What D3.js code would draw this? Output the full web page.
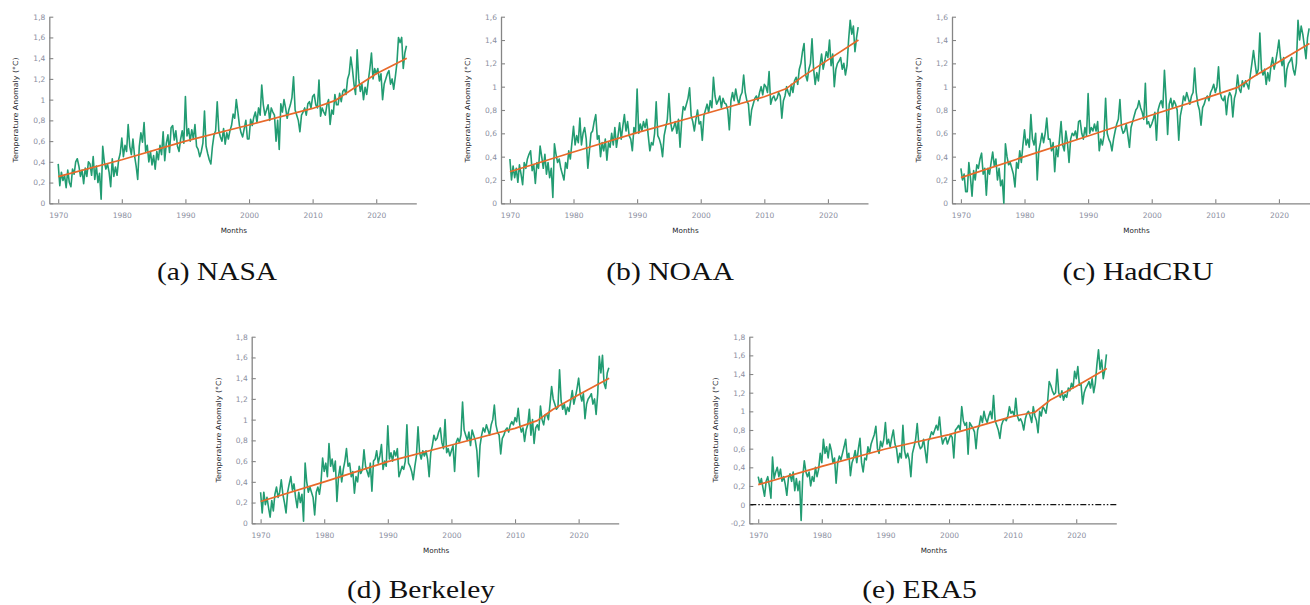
<!DOCTYPE html>
<html>
<head>
<meta charset="utf-8">
<script src="https://cdn.jsdelivr.net/npm/d3@7"></script>
<style>
  html, body { margin: 0; padding: 0; background: #ffffff; }
  svg { display: block; }
</style>
</head>
<body>
<svg id="chart" width="1310" height="605"></svg>
<script>
// ---------------- DATA (quarterly readings, 1970.00 .. 2024.75) ----------------
const startYear = 1970;
const stepYears = 0.25;

const nasa = [
0.38,0.17,0.30,0.22, 0.27,0.15,0.32,0.20, 0.16,0.33,0.28,0.40, 0.43,0.36,0.26,0.32, 0.19,0.34,0.26,0.40,
0.38,0.27,0.45,0.23, 0.36,0.20,0.29,0.04, 0.55,0.40,0.33,0.38, 0.30,0.16,0.43,0.26, 0.35,0.27,0.42,0.48,
0.63,0.45,0.56,0.50, 0.76,0.55,0.47,0.62, 0.46,0.36,0.23,0.55, 0.68,0.59,0.78,0.50, 0.56,0.40,0.50,0.37,
0.46,0.33,0.50,0.42, 0.56,0.47,0.69,0.41, 0.58,0.66,0.49,0.73, 0.75,0.61,0.70,0.55, 0.50,0.62,0.70,0.58,
1.03,0.65,0.72,0.60, 0.71,0.62,0.76,0.55, 0.52,0.45,0.50,0.58, 0.89,0.55,0.48,0.42, 0.38,0.55,0.66,0.70,
0.98,0.70,0.64,0.60, 0.72,0.57,0.68,0.62, 0.70,0.75,0.86,0.82, 1.00,0.88,0.75,0.68, 0.64,0.72,0.80,0.62,
0.62,0.81,0.75,0.83, 0.88,0.78,0.92,0.85, 1.14,0.95,0.85,0.90, 0.95,0.80,0.92,0.88, 0.85,0.60,0.80,0.52,
0.96,0.88,1.00,0.92, 0.82,0.90,0.95,1.02, 1.22,0.90,0.85,0.80, 0.69,0.85,0.88,0.92, 0.85,0.96,0.98,0.92,
1.03,1.05,0.95,0.92, 1.19,0.84,0.92,0.88, 0.85,0.95,1.00,0.76, 0.90,0.86,1.05,0.95, 0.95,1.06,0.98,1.08,
1.10,1.05,1.20,1.25, 1.41,1.30,1.15,1.05, 1.48,1.20,1.08,1.15, 1.00,1.12,1.05,1.18, 1.30,1.45,1.20,1.30,
1.25,1.30,1.18,1.25, 1.00,1.15,1.20,1.25, 1.28,1.15,1.20,1.10, 1.22,1.35,1.60,1.55, 1.60,1.30,1.45,1.52
];

const noaa = [
0.38,0.20,0.32,0.22, 0.30,0.18,0.33,0.25, 0.16,0.35,0.30,0.38, 0.42,0.45,0.28,0.33, 0.17,0.35,0.30,0.49,
0.40,0.30,0.42,0.25, 0.35,0.22,0.30,0.05, 0.51,0.42,0.35,0.38, 0.30,0.25,0.20,0.35, 0.30,0.45,0.38,0.52,
0.66,0.50,0.58,0.52, 0.73,0.50,0.60,0.65, 0.55,0.30,0.45,0.60, 0.62,0.70,0.76,0.55, 0.58,0.40,0.52,0.45,
0.55,0.37,0.52,0.48, 0.60,0.50,0.65,0.48, 0.58,0.69,0.55,0.66, 0.76,0.62,0.70,0.58, 0.55,0.45,0.65,0.60,
0.98,0.60,0.68,0.62, 0.70,0.65,0.72,0.58, 0.45,0.52,0.50,0.60, 0.87,0.58,0.55,0.50, 0.40,0.58,0.65,0.72,
0.94,0.70,0.62,0.65, 0.70,0.60,0.72,0.48, 0.70,0.83,0.80,0.85, 0.90,0.99,0.75,0.70, 0.62,0.72,0.80,0.68,
0.70,0.54,0.75,0.80, 0.85,0.78,0.88,0.82, 1.08,0.92,0.85,0.88, 0.92,0.82,0.90,0.86, 0.85,0.80,0.63,0.88,
0.95,0.88,0.98,0.90, 0.85,0.92,0.95,1.10, 0.95,0.88,0.85,0.67, 0.80,0.85,0.90,0.92, 0.88,0.95,1.00,0.93,
1.02,1.00,0.95,1.13, 0.85,0.90,0.92,0.88, 0.90,0.95,0.92,0.73, 0.88,0.92,1.00,0.95, 0.92,1.02,0.95,1.05,
1.08,1.02,1.15,1.20, 1.30,1.37,1.10,1.05, 1.15,1.20,1.41,1.15, 1.02,1.12,1.05,1.18, 1.28,1.15,1.22,1.30,
1.25,1.40,1.18,1.28, 1.00,1.15,1.20,1.22, 1.25,1.15,1.20,1.10, 1.18,1.40,1.57,1.45, 1.52,1.30,1.42,1.51
];

const hadcru = [
0.30,0.20,0.25,0.10, 0.10,0.35,0.22,0.06, 0.28,0.20,0.33,0.30, 0.38,0.43,0.25,0.30, 0.07,0.30,0.25,0.35,
0.44,0.32,0.38,0.20, 0.30,0.15,0.20,0.00, 0.51,0.40,0.33,0.35, 0.30,0.25,0.14,0.35, 0.30,0.45,0.35,0.50,
0.63,0.50,0.55,0.48, 0.76,0.55,0.50,0.60, 0.20,0.45,0.52,0.60, 0.52,0.60,0.73,0.55, 0.55,0.45,0.52,0.27,
0.48,0.40,0.55,0.70, 0.50,0.45,0.62,0.52, 0.35,0.55,0.60,0.58, 0.62,0.55,0.70,0.71, 0.60,0.55,0.65,0.58,
0.94,0.60,0.65,0.62, 0.68,0.62,0.70,0.45, 0.55,0.50,0.58,0.90, 0.60,0.55,0.52,0.45, 0.55,0.62,0.68,0.72,
0.89,0.65,0.60,0.62, 0.68,0.58,0.48,0.65, 0.70,0.75,0.80,0.82, 0.88,0.82,0.78,0.72, 1.03,0.68,0.70,0.65,
0.68,0.72,0.78,0.54, 0.80,0.85,0.88,0.82, 1.14,0.90,0.59,0.85, 0.90,0.82,0.88,0.85, 0.80,0.54,0.75,0.82,
0.92,0.88,0.95,0.90, 0.85,0.92,0.95,1.16, 0.95,0.85,0.80,0.67, 0.82,0.85,0.90,0.92, 0.88,0.95,0.98,1.02,
0.95,1.00,1.17,0.95, 0.90,0.88,0.92,0.76, 0.90,0.95,0.92,0.74, 0.90,0.95,1.10,0.98, 0.95,1.05,1.00,1.05,
1.02,0.98,1.10,1.20, 1.31,1.20,1.10,1.15, 1.46,1.15,1.10,1.15, 1.02,1.12,1.05,1.18, 1.25,1.15,1.22,1.30,
1.40,1.25,1.18,1.25, 1.00,1.15,1.20,1.22, 1.25,1.15,1.10,1.20, 1.57,1.40,1.52,1.45, 1.35,1.24,1.42,1.50
];

const berkeley = [
0.30,0.10,0.30,0.18, 0.25,0.15,0.06,0.22, 0.12,0.28,0.35,0.25, 0.30,0.42,0.28,0.20, 0.10,0.30,0.38,0.45,
0.32,0.38,0.25,0.15, 0.30,0.20,0.28,0.02, 0.58,0.40,0.30,0.35, 0.30,0.25,0.08,0.30, 0.35,0.28,0.40,0.63,
0.50,0.58,0.45,0.77, 0.55,0.62,0.50,0.60, 0.21,0.45,0.55,0.40, 0.52,0.60,0.72,0.55, 0.58,0.45,0.50,0.29,
0.45,0.40,0.55,0.48, 0.52,0.71,0.55,0.50, 0.45,0.58,0.31,0.60, 0.62,0.70,0.58,0.65, 0.76,0.52,0.60,0.55,
0.94,0.62,0.68,0.60, 0.70,0.65,0.72,0.45, 0.50,0.55,0.52,0.60, 0.95,0.58,0.55,0.50, 0.42,0.55,0.65,0.93,
0.68,0.62,0.70,0.65, 0.70,0.62,0.45,0.68, 0.75,0.85,0.80,0.82, 0.88,0.92,0.78,0.72, 1.00,0.68,0.72,0.65,
0.70,0.75,0.50,0.78, 0.82,0.78,0.85,1.17, 0.90,0.85,0.80,0.88, 0.75,0.90,0.85,0.80, 0.70,0.45,0.75,0.85,
0.92,0.88,0.95,0.90, 0.85,0.95,1.00,1.14, 0.95,0.88,0.85,0.67, 0.82,0.85,0.90,0.92, 0.88,0.95,0.98,0.95,
1.02,0.98,1.11,0.95, 0.88,0.92,0.79,0.90, 0.95,1.10,0.85,1.00, 0.77,0.92,0.95,0.90, 1.13,1.00,0.95,1.05,
1.05,1.00,1.15,1.32, 1.20,1.15,1.10,1.12, 1.48,1.18,1.10,1.15, 1.05,1.12,1.08,1.18, 1.28,1.15,1.22,1.30,
1.40,1.25,1.18,1.25, 1.01,1.15,1.20,1.22, 1.25,1.15,1.20,1.05, 1.25,1.61,1.45,1.62, 1.35,1.30,1.45,1.50
];

const era5 = [
0.30,0.22,0.28,0.18, 0.09,0.25,0.30,0.20, 0.07,0.51,0.28,0.35, 0.40,0.30,0.38,0.25, 0.30,0.22,0.10,0.28,
0.33,0.25,0.35,0.15, 0.28,0.15,0.25,-0.17, 0.30,0.47,0.35,0.30, 0.35,0.20,0.30,0.25, 0.40,0.30,0.38,0.55,
0.45,0.70,0.55,0.62, 0.50,0.65,0.58,0.45, 0.50,0.23,0.45,0.52, 0.48,0.55,0.62,0.70, 0.50,0.55,0.31,0.45,
0.50,0.58,0.45,0.60, 0.71,0.45,0.35,0.50, 0.48,0.62,0.55,0.65, 0.70,0.75,0.84,0.60, 0.55,0.68,0.62,0.70,
0.88,0.65,0.70,0.62, 0.72,0.80,0.65,0.60, 0.45,0.55,0.50,0.85, 0.58,0.50,0.55,0.48, 0.30,0.55,0.62,0.70,
0.87,0.65,0.60,0.62, 0.70,0.58,0.45,0.68, 0.72,0.78,0.75,0.80, 0.85,0.80,0.94,0.75, 0.65,0.70,0.72,0.65,
0.70,0.75,0.72,0.50, 0.80,0.82,0.85,0.80, 1.05,0.90,0.85,0.88, 0.54,0.88,0.85,0.82, 0.78,0.60,0.80,0.85,
0.95,0.88,1.00,0.92, 0.88,0.95,1.00,0.92, 1.17,0.90,0.85,0.80, 0.71,0.85,0.90,0.92, 0.90,0.95,1.05,0.98,
1.00,0.95,1.14,0.95, 0.90,0.92,0.88,0.80, 0.92,0.98,1.00,0.95, 0.88,1.05,0.95,0.90, 0.77,1.00,0.95,1.05,
1.02,0.98,1.10,1.32, 1.28,1.22,1.18,1.20, 1.45,1.20,1.15,1.22, 1.12,1.18,1.15,1.25, 1.22,1.30,1.25,1.43,
1.35,1.48,1.28,1.30, 1.08,1.20,1.25,1.28, 1.32,1.25,1.35,1.20, 1.30,1.50,1.66,1.45, 1.55,1.35,1.45,1.61
];

// orange trend knots
const trendYears    = [1970, 1980, 1990, 2000, 2010, 2013.5, 2016, 2020, 2024.8];
const trendNasa     = [0.257, 0.42, 0.60, 0.755, 0.915, 0.99, 1.09, 1.25, 1.40];
const trendNoaa     = [0.27, 0.44, 0.606, 0.757, 0.914, 0.985, 1.086, 1.23, 1.40];
const trendHadcru   = [0.22, 0.40, 0.577, 0.757, 0.93, 0.994, 1.085, 1.214, 1.37];
const trendBerkeley = [0.21, 0.40, 0.595, 0.755, 0.916, 0.99, 1.10, 1.24, 1.40];
const trendEra5     = [0.214, 0.41, 0.596, 0.75, 0.946, 0.99, 1.125, 1.27, 1.46];

const xTicks = [1970, 1980, 1990, 2000, 2010, 2020];
const captions = ["(a) NASA", "(b) NOAA", "(c) HadCRU", "(d) Berkeley", "(e) ERA5"];
const yDomains = [[0, 1.8], [0, 1.6], [0, 1.6], [0, 1.8], [-0.2, 1.8]];
const yTitle = "Temperature Anomaly (°C)";
const xTitle = "Months";

// ---------------- LAYOUT ----------------
const layout = [
  { L: 49.3,  top: 16.7,  bottom: 203.3, cx: 217,  cy: 280, cw: 120 },
  { L: 501.0, top: 16.7,  bottom: 203.3, cx: 670,  cy: 280, cw: 127.6 },
  { L: 952.0, top: 16.7,  bottom: 203.3, cx: 1138, cy: 280, cw: 151 },
  { L: 251.7, top: 336.7, bottom: 523.3, cx: 421,  cy: 598, cw: 148 },
  { L: 749.3, top: 336.7, bottom: 523.3, cx: 919.5, cy: 598, cw: 114.7 }
];
const series = [nasa, noaa, hadcru, berkeley, era5];
const trends = [trendNasa, trendNoaa, trendHadcru, trendBerkeley, trendEra5];
const xDomain = [1968.6, 2026.3];
const axisWidth = 367;

const GREEN = "#229c72";
const ORANGE = "#e8692a";
const AXIS = "#858585";
const TICKTXT = "#8a8ea0";
const TITLETXT = "#1c1c2a";

const locale = d3.formatLocale({ decimal: ",", thousands: ".", grouping: [3], currency: ["", ""], minus: "-" });
const yFmt = locale.format("~g");

const svg = d3.select("#chart");

series.forEach((vals, i) => {
  const lay = layout[i];
  const g = svg.append("g");
  const x = d3.scaleLinear().domain(xDomain).range([lay.L, lay.L + axisWidth]);
  const y = d3.scaleLinear().domain(yDomains[i]).range([lay.bottom, lay.top]);

  // y axis
  const yAxis = d3.axisLeft(y).ticks(10).tickFormat(yFmt).tickSizeInner(-4).tickSizeOuter(0).tickPadding(4);
  const ya = g.append("g").attr("transform", `translate(${lay.L},0)`).call(yAxis);
  // x axis
  const xAxis = d3.axisBottom(x).tickValues(xTicks).tickFormat(d3.format("d")).tickSizeInner(-4).tickSizeOuter(0).tickPadding(9);
  const xa = g.append("g").attr("transform", `translate(0,${lay.bottom})`).call(xAxis);

  [ya, xa].forEach(a => {
    a.select(".domain").attr("stroke", AXIS).attr("stroke-width", 1.3);
    a.selectAll(".tick line").attr("stroke", AXIS).attr("stroke-width", 1.1);
    a.selectAll(".tick text").attr("fill", TICKTXT)
      .attr("font-family", "'DejaVu Sans', Verdana, sans-serif").attr("font-size", 7.5);
  });

  // zero reference line (ERA5 only, where the domain includes negatives)
  if (yDomains[i][0] < 0) {
    g.append("line")
      .attr("x1", lay.L + 1).attr("x2", lay.L + axisWidth)
      .attr("y1", y(0)).attr("y2", y(0))
      .attr("stroke", "#111").attr("stroke-width", 1.2)
      .attr("stroke-dasharray", "6,2,1.5,2,1.5,2");
  }

  // green monthly-like line
  const line = d3.line().x((d, k) => x(startYear + k * stepYears)).y(d => y(d));
  g.append("path").datum(vals)
    .attr("fill", "none").attr("stroke", GREEN).attr("stroke-width", 1.6)
    .attr("stroke-linejoin", "round").attr("d", line);

  // orange trend
  const tline = d3.line().x((d, k) => x(trendYears[k])).y(d => y(d));
  g.append("path").datum(trends[i])
    .attr("fill", "none").attr("stroke", ORANGE).attr("stroke-width", 1.7)
    .attr("stroke-linejoin", "round").attr("d", tline);

  // axis titles
  g.append("text")
    .attr("x", lay.L + axisWidth / 2 + 1).attr("y", lay.bottom + 29.5)
    .attr("text-anchor", "middle").attr("fill", TITLETXT)
    .attr("font-family", "'DejaVu Sans', Verdana, sans-serif").attr("font-size", 7.2)
    .text(xTitle);
  g.append("text")
    .attr("transform", `translate(${lay.L - 31},${(lay.top + lay.bottom) / 2}) rotate(-90)`)
    .attr("text-anchor", "middle").attr("fill", TITLETXT)
    .attr("font-family", "'DejaVu Sans', Verdana, sans-serif").attr("font-size", 7)
    .attr("textLength", 105).attr("lengthAdjust", "spacingAndGlyphs")
    .text(yTitle);

  // caption
  svg.append("text")
    .attr("x", lay.cx).attr("y", lay.cy)
    .attr("text-anchor", "middle").attr("fill", "#111")
    .attr("font-family", "'Liberation Serif', 'DejaVu Serif', serif").attr("font-size", 26)
    .attr("textLength", lay.cw).attr("lengthAdjust", "spacingAndGlyphs")
    .text(captions[i]);
});
</script>
</body>
</html>
